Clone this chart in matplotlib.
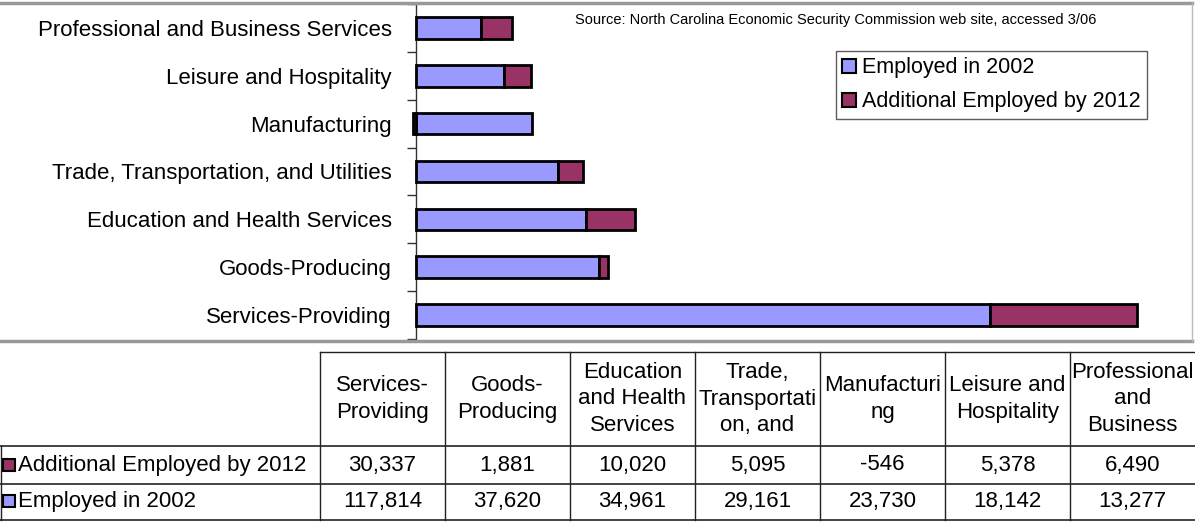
import numpy as np
import matplotlib
matplotlib.use("Agg")
import matplotlib.pyplot as plt
from matplotlib.patches import Patch, Rectangle
from matplotlib.lines import Line2D

plt.rcParams["font.family"] = ["Liberation Sans", "DejaVu Sans"]

# ── data ────────────────────────────────────────────────────────────────
categories = ["Services-Providing", "Goods-Producing",
              "Education and Health Services",
              "Trade, Transportation, and Utilities", "Manufacturing",
              "Leisure and Hospitality", "Professional and Business Services"]
header_labels = ["Services-\nProviding", "Goods-\nProducing",
                 "Education\nand Health\nServices",
                 "Trade,\nTransportati\non, and", "Manufacturi\nng",
                 "Leisure and\nHospitality", "Professional\nand\nBusiness"]
employed_2002 = np.array([117814, 37620, 34961, 29161, 23730, 18142, 13277])
additional_2012 = np.array([30337, 1881, 10020, 5095, -546, 5378, 6490])

series_names = ["Employed in 2002", "Additional Employed by 2012"]
c_blue, c_red = "#9999FF", "#993366"

# ── figure ──────────────────────────────────────────────────────────────
W, H = 1195, 523
fig = plt.figure(figsize=(W / 100, H / 100), dpi=100)

def px(x0, y0, x1, y1):
    return [x0 / W, 1 - y1 / H, (x1 - x0) / W, (y1 - y0) / H]

ax = fig.add_axes(px(416, 4, 1195, 339))
y = np.arange(len(categories))
ax.barh(y, employed_2002, height=0.45, color=c_blue, edgecolor="black",
        lw=2, clip_on=False, zorder=3)
# Excel stacks negative values leftwards from zero
add_left = np.where(additional_2012 >= 0, employed_2002, 0)
ax.barh(y, additional_2012, left=add_left, height=0.45, color=c_red,
        edgecolor="black", lw=2, clip_on=False, zorder=3)

ax.set_xlim(0, 160000)
ax.set_ylim(-0.5, len(categories) - 0.5)
ax.set_xticks([])
ax.set_yticks(np.arange(-0.5, len(categories), 1))
ax.set_yticklabels([])
ax.set_yticks(y, minor=True)
ax.set_yticklabels(categories, minor=True, fontsize=16)
ax.tick_params(axis="y", which="major", direction="out", length=6.5,
               width=1, color="#333333")
ax.tick_params(axis="y", which="minor", length=0, pad=17.3)
for s in ["top", "right", "bottom"]:
    ax.spines[s].set_visible(False)
ax.spines["left"].set_color("#333333")
ax.spines["left"].set_linewidth(1)
ax.patch.set_alpha(0)

# plot area border
fig.add_artist(Line2D([0, 1192 / W], [1 - 3 / H] * 2, color="#999999", lw=2.5))
fig.add_artist(Line2D([0, 1192 / W], [1 - 341 / H] * 2, color="#999999", lw=2.5))
fig.add_artist(Line2D([1192 / W] * 2, [1 - 3 / H, 1 - 341 / H],
                      color="#bbbbbb", lw=1))

fig.text(575 / W, 1 - 20 / H,
         "Source: North Carolina Economic Security Commission web site, accessed 3/06",
         fontsize=10.5, va="center", ha="left")

leg = fig.legend([Patch(facecolor=c_blue, edgecolor="black", lw=1.5),
                  Patch(facecolor=c_red, edgecolor="black", lw=1.5)],
                 series_names, loc="upper left",
                 bbox_to_anchor=(836 / W, 1 - 51 / H), fontsize=15.5,
                 frameon=True, fancybox=False, edgecolor="#333333",
                 handlelength=0.65, handleheight=0.65, handletextpad=0.25,
                 borderpad=0.3, labelspacing=0.6, borderaxespad=0)
leg.get_frame().set_linewidth(1)

# ── data table ──────────────────────────────────────────────────────────
tx = fig.add_axes([0, 0, 1, 1])
tx.set_xlim(0, W)
tx.set_ylim(H, 0)
tx.axis("off")
tx.patch.set_alpha(0)

label_w, col_w = 320, 125
top, head_b, row1_b, row2_b = 352, 446, 484, 520
col_edges = label_w + col_w * np.arange(len(categories) + 1)
lc = "#222222"

tx.plot([label_w, W], [top, top], color=lc, lw=1)
for yy in (head_b, row1_b, row2_b):
    tx.plot([0, W], [yy, yy], color=lc, lw=1.2)
for xx in col_edges[:-1]:
    tx.plot([xx, xx], [top, row2_b], color=lc, lw=1)
tx.plot([0.5, 0.5], [head_b, row2_b], color=lc, lw=1)

for i, lab in enumerate(header_labels):
    tx.text(col_edges[i] + col_w / 2, (top + head_b) / 2, lab, fontsize=16,
            ha="center", va="center", linespacing=1.32)

rows = [(series_names[1], c_red, additional_2012, row1_b),
        (series_names[0], c_blue, employed_2002, row2_b)]
for name, col, vals, yb in rows:
    yc = yb - 19
    tx.add_patch(Rectangle((3, yc - 6), 12, 12, facecolor=col,
                           edgecolor="black", lw=1.5))
    tx.text(18, yc, name, fontsize=16, ha="left", va="center")
    for i, v in enumerate(vals):
        tx.text(col_edges[i] + col_w / 2, yc, f"{v:,}", fontsize=16,
                ha="center", va="center")

fig.savefig("out.png", dpi=100)
